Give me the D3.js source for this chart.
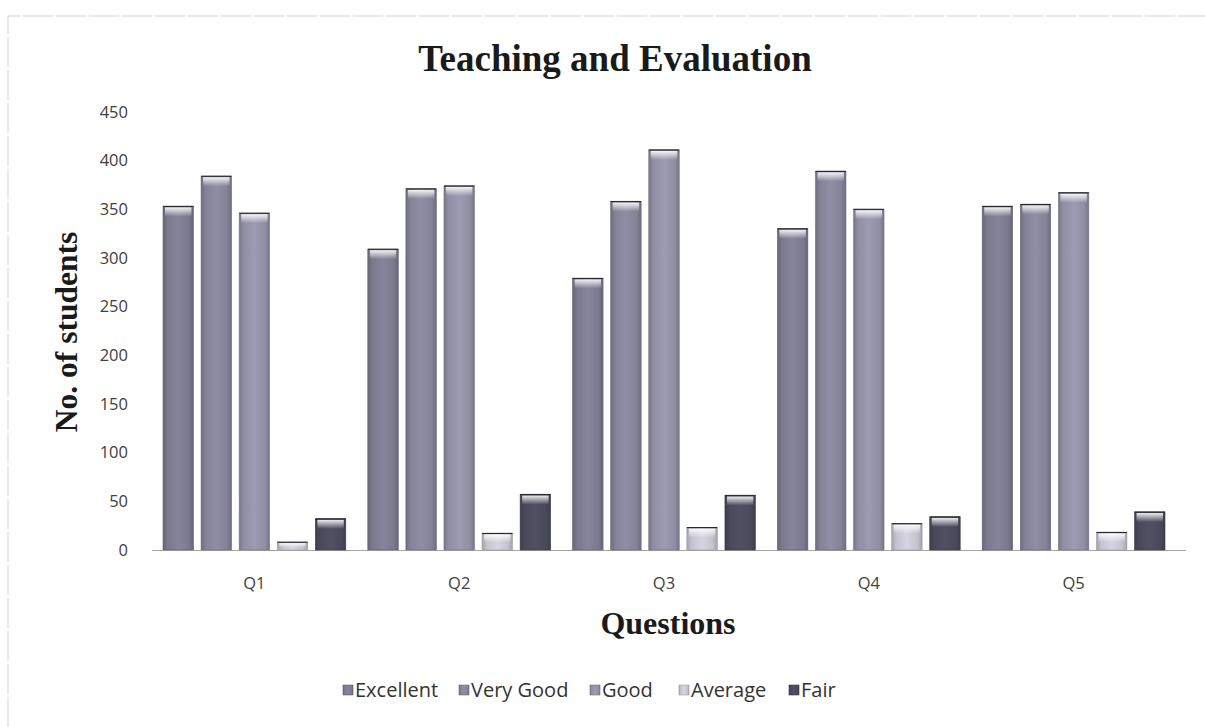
<!DOCTYPE html>
<html>
<head>
<meta charset="utf-8">
<script src="https://cdn.jsdelivr.net/npm/d3@7"></script>
<style>
  body { margin: 0; background: #fff; }
  svg { display: block; }
</style>
</head>
<body>
<svg id="chart" width="1205" height="727"></svg>
<script>
// data
const questions = ["Q1", "Q2", "Q3", "Q4", "Q5"];
const ratings = ["Excellent", "Very Good", "Good", "Average", "Fair"];
const excellent = [353, 309, 279, 330, 353];
const veryGood = [384, 371, 358, 389, 355];
const good = [346, 374, 411, 350, 367];
const average = [8, 17, 23, 27, 18];
const fair = [32, 57, 56, 34, 39];
const yTicks = [0, 50, 100, 150, 200, 250, 300, 350, 400, 450];

const seriesValues = [excellent, veryGood, good, average, fair];
const colors = ["#7b798e", "#848297", "#908ea3", "#c3c2cd", "#4a495b"];

const svg = d3.select("#chart");
const width = 1205, height = 727;
const plot = { left: 152, right: 1176, top: 112, bottom: 550 };

// faint scanned border
svg.append("path")
  .attr("d", `M8,${height} V16 H${width}`)
  .attr("fill", "none")
  .attr("stroke", "#d4d4d4")
  .attr("stroke-width", 1)
  .attr("stroke-dasharray", "30,3");

const x = d3.scaleBand().domain(questions).range([plot.left, plot.right]);
const xInner = d3.scaleBand()
  .domain(ratings)
  .range([11, x.bandwidth() - 11])
  .paddingInner(0.2);
const y = d3.scaleLinear().domain([0, 450]).range([plot.bottom, plot.top]);

// gradients per series: darker edges, lighter middle
const defs = svg.append("defs");
colors.forEach((c, i) => {
  const g = defs.append("linearGradient")
    .attr("id", "grad" + i)
    .attr("x1", "0%").attr("x2", "100%").attr("y1", "0%").attr("y2", "0%");
  const base = d3.color(c);
  g.append("stop").attr("offset", "0%").attr("stop-color", base.darker(0.5));
  g.append("stop").attr("offset", "15%").attr("stop-color", base);
  g.append("stop").attr("offset", "50%").attr("stop-color", base.brighter(0.25));
  g.append("stop").attr("offset", "85%").attr("stop-color", base);
  g.append("stop").attr("offset", "100%").attr("stop-color", base.darker(0.5));
  const t = defs.append("linearGradient")
    .attr("id", "top" + i)
    .attr("x1", "0%").attr("x2", "0%").attr("y1", "0%").attr("y2", "100%");
  t.append("stop").attr("offset", "0%").attr("stop-color", "#ffffff").attr("stop-opacity", 0.9);
  t.append("stop").attr("offset", "100%").attr("stop-color", "#ffffff").attr("stop-opacity", 0);
});

// y axis labels
const yAxis = svg.append("g")
  .attr("transform", `translate(${plot.left - 24},0)`)
  .call(d3.axisLeft(y).tickValues(yTicks).tickSize(0).tickPadding(0));
yAxis.select(".domain").remove();
yAxis.selectAll("text")
  .attr("font-family", "'Open Sans', sans-serif")
  .attr("font-size", 16.5)
  .attr("fill", "#404040");

// x axis
const xAxis = svg.append("g")
  .attr("transform", `translate(0,${plot.bottom})`)
  .call(d3.axisBottom(x).tickSize(0).tickPadding(27));
xAxis.select(".domain")
  .attr("stroke", "#a6a6a6")
  .attr("d", `M${plot.left},0.5H${plot.right + 10}`);
xAxis.selectAll("text")
  .attr("font-family", "'Open Sans', sans-serif")
  .attr("font-size", 16.5)
  .attr("fill", "#404040");

// bars
const groups = svg.append("g").selectAll("g")
  .data(questions)
  .join("g")
  .attr("transform", d => `translate(${x(d)},0)`);

groups.each(function (q, qi) {
  const g = d3.select(this);
  ratings.forEach((r, si) => {
    const v = seriesValues[si][qi];
    const bx = xInner(r), bw = xInner.bandwidth();
    g.append("rect")
      .attr("x", bx).attr("y", y(v))
      .attr("width", bw).attr("height", y(0) - y(v))
      .attr("fill", `url(#grad${si})`)
      .attr("stroke", d3.color(colors[si]).darker(0.6))
      .attr("stroke-width", 0.6);
    const cap = Math.min(9, (y(0) - y(v)) / 2);
    g.append("rect")
      .attr("x", bx + 2).attr("y", y(v) + 1)
      .attr("width", bw - 4).attr("height", cap)
      .attr("fill", `url(#top${si})`);
    g.append("line")
      .attr("x1", bx).attr("x2", bx + bw)
      .attr("y1", y(v)).attr("y2", y(v))
      .attr("stroke", "#2a2a33").attr("stroke-width", 1.2);
  });
});

// titles
svg.append("text")
  .attr("x", 615).attr("y", 71)
  .attr("text-anchor", "middle")
  .attr("font-family", "'Liberation Serif', serif")
  .attr("font-weight", "bold")
  .attr("font-size", 37)
  .attr("fill", "#1a1a1a")
  .text("Teaching and Evaluation");

svg.append("text")
  .attr("transform", "translate(77,332) rotate(-90)")
  .attr("text-anchor", "middle")
  .attr("font-family", "'Liberation Serif', serif")
  .attr("font-weight", "bold")
  .attr("font-size", 31.5)
  .attr("fill", "#1a1a1a")
  .text("No. of students");

svg.append("text")
  .attr("x", 668).attr("y", 634)
  .attr("text-anchor", "middle")
  .attr("font-family", "'Liberation Serif', serif")
  .attr("font-weight", "bold")
  .attr("font-size", 32)
  .attr("fill", "#1a1a1a")
  .text("Questions");

// legend
const legendX = [343, 459, 590, 679, 789];
const legend = svg.append("g").selectAll("g")
  .data(ratings)
  .join("g")
  .attr("transform", (d, i) => `translate(${legendX[i]},690)`);
legend.append("rect")
  .attr("x", 0).attr("y", -5)
  .attr("width", 10).attr("height", 10)
  .attr("fill", (d, i) => `url(#grad${i})`)
  .attr("stroke", (d, i) => d3.color(colors[i]).darker(0.6))
  .attr("stroke-width", 0.6);
legend.append("text")
  .attr("x", 12).attr("y", 0)
  .attr("dy", "0.35em")
  .attr("font-family", "'Open Sans', sans-serif")
  .attr("font-size", 20)
  .attr("fill", "#333")
  .text(d => d);
</script>
</body>
</html>
